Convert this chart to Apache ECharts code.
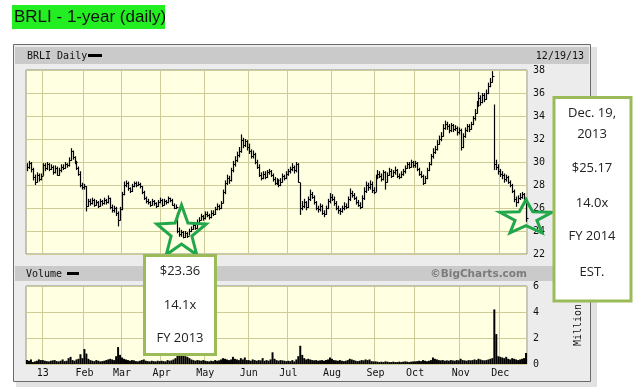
<!DOCTYPE html>
<html><head><meta charset="utf-8">
<script src="https://cdn.jsdelivr.net/npm/echarts@6/dist/echarts.min.js"></script>
<style>html,body{margin:0;padding:0;background:#fff}#c{width:642px;height:390px}</style>
</head><body><div id="c"></div>
<script>
// ---- calendar ----
const firstDay = '2012-12-19', lastDay = '2013-12-19';
const holidays = ['2012-12-25','2013-01-01','2013-01-21','2013-02-18','2013-03-29','2013-05-27','2013-07-04','2013-09-02','2013-11-28'];
const monthLabels = ['13','Feb','Mar','Apr','May','Jun','Jul','Aug','Sep','Oct','Nov','Dec'];
const priceTicks = {min:22, max:38, step:2};
const volTicks = {min:0, max:6, step:2};

// ---- daily close (USD) by month ----
const closeDec12 = [29.6,29.9,29.4,28.7,28.3,28.9,28.5,28.8];
const closeJan = [29.7,29.5,29.8,29.4,29.6,29.1,29.5,28.9,29.3,29.6,29.5,29.8,29.7,30.2,31.0,30.4,30.0,29.5,29.0,28.0,27.8];
const closeFeb = [27.9,26.2,26.6,26.4,26.7,26.3,26.5,26.2,26.6,26.4,26.7,26.5,26.9,26.1,25.8,26.0,25.6,25.0,25.9];
const closeMar = [27.2,28.0,28.2,27.7,27.5,27.9,28.2,28.0,28.1,27.9,27.4,26.9,26.6,26.5,26.3,26.6,26.4,26.2,26.5,26.7];
const closeApr = [26.3,26.6,26.5,26.9,26.7,26.3,26.0,26.1,24.0,23.7,23.9,23.5,23.8,23.6,24.0,24.2,24.5,24.3,24.8,25.0,25.3,25.1];
const closeMay = [25.5,25.4,25.2,25.6,25.5,25.9,26.2,26.0,26.4,27.4,28.2,28.6,28.4,29.3,29.8,30.2,30.6,31.0,31.9,31.5,31.8,31.3];
const closeJun = [31.0,30.5,30.7,30.0,29.6,28.9,28.6,29.0,28.7,29.1,29.2,28.9,28.5,28.2,28.4,28.0,28.3,28.8,28.6,29.0];
const closeJul = [29.2,29.4,29.6,29.3,29.8,28.3,26.0,26.2,26.5,26.1,26.8,27.2,27.0,26.5,26.0,25.9,26.2,25.6,25.5,26.0,26.6,27.0];
const closeAug = [26.8,26.4,26.0,25.8,25.7,26.0,26.2,26.1,26.8,27.3,27.1,26.9,26.5,26.3,26.1,26.9,27.5,28.0,27.8,28.1,27.6,27.4];
const closeSep = [28.7,29.0,28.8,28.5,29.1,28.3,28.9,29.2,28.8,29.1,29.3,28.8,28.7,29.0,29.2,29.5,29.8,29.6,30.0,29.7];
const closeOct = [29.9,29.4,29.0,28.8,28.2,28.6,29.3,29.8,30.5,30.9,31.1,31.6,32.0,32.3,33.0,33.3,33.1,32.8,33.2,32.9,33.0,32.6,32.8];
const closeNov = [31.3,32.3,32.8,33.1,32.9,33.3,33.8,34.3,35.0,35.6,35.2,35.8,35.5,36.0,36.6,37.0,37.5,29.8,29.6,29.2];
const closeDec = [29.0,28.9,28.5,28.7,28.3,28.0,27.5,26.8,26.5,26.9,27.0,27.2,26.9,25.17];

// ---- daily high ----
const highDec12 = [29.9,30.1,30.0,29.5,28.9,29.1,29.0,29.0];
const highJan = [29.9,29.9,30.0,29.9,29.8,29.7,29.7,29.6,29.5,29.8,29.8,30.0,29.9,30.4,31.2,31.0,30.5,30.1,29.6,29.2,28.2];
const highFeb = [28.1,27.9,26.8,26.8,26.9,26.8,26.7,26.6,26.8,26.7,26.9,26.8,27.1,26.9,26.3,26.2,26.1,25.7,26.1];
const highMar = [27.4,28.3,28.4,28.3,27.8,28.1,28.3,28.3,28.3,28.2,27.9,27.5,27.0,26.8,26.6,26.8,26.7,26.5,26.7,26.9];
const highApr = [26.8,26.8,26.7,27.0,26.9,26.8,26.4,26.3,25.6,24.3,24.1,24.0,24.0,23.9,24.2,24.4,24.7,24.6,25.0,25.2,25.5,25.4];
const highMay = [25.7,25.7,25.5,25.8,25.8,26.1,26.4,26.3,26.6,27.6,28.4,28.9,28.8,29.5,30.1,30.5,30.9,31.3,32.4,32.1,32.0,31.9];
const highJun = [31.6,31.1,31.0,30.8,30.2,29.8,29.1,29.2,29.2,29.3,29.4,29.3,29.0,28.7,28.6,28.5,28.6,29.0,28.9,29.2];
const highJul = [29.4,29.6,29.9,29.7,30.0,29.9,28.2,26.6,26.8,26.6,27.0,27.6,27.4,27.1,26.6,26.2,26.4,26.3,25.8,26.2,26.8,27.3];
const highAug = [27.2,27.0,26.6,26.2,26.0,26.2,26.5,26.4,27.0,27.7,27.5,27.3,27.0,26.7,26.5,27.1,27.8,28.3,28.2,28.4,28.3,27.8];
const highSep = [28.9,29.3,29.2,29.0,29.3,29.2,29.1,29.5,29.4,29.3,29.6,29.4,29.0,29.2,29.4,29.7,30.0,30.0,30.2,30.1];
const highOct = [30.1,30.0,29.5,29.2,28.9,28.8,29.5,30.0,30.7,31.2,31.4,31.9,32.3,32.6,33.3,33.6,33.5,33.3,33.4,33.3,33.2,33.1,33.0];
const highNov = [32.9,32.5,33.0,33.3,33.3,33.5,34.0,34.6,35.3,36.1,35.8,36.0,36.0,36.3,36.9,37.3,37.9,35.0,30.2,29.8];
const highDec = [29.4,29.2,29.0,28.9,28.8,28.4,28.1,27.6,27.0,27.1,27.3,27.4,27.3,26.9];

// ---- daily low ----
const lowDec12 = [29.2,29.4,29.1,28.4,28.0,28.2,28.3,28.4];
const lowJan = [28.8,29.2,29.3,29.2,29.3,28.9,29.0,28.8,28.8,29.1,29.3,29.4,29.5,29.6,30.1,30.2,29.8,29.3,28.8,27.8,27.6];
const lowFeb = [27.6,25.7,26.1,26.2,26.3,26.1,26.2,26.0,26.1,26.2,26.3,26.3,26.4,25.9,25.6,25.6,25.3,24.4,24.9];
const lowMar = [25.8,27.1,27.8,27.5,27.3,27.4,27.8,27.8,27.9,27.7,27.2,26.7,26.4,26.3,26.1,26.2,26.2,26.0,26.1,26.4];
const lowApr = [26.1,26.2,26.3,26.4,26.5,26.2,25.9,25.9,23.8,23.5,23.5,23.36,23.4,23.4,23.6,23.9,24.1,24.1,24.2,24.6,24.9,24.9];
const lowMay = [25.0,25.2,25.0,25.1,25.3,25.4,25.8,25.8,25.9,26.4,27.2,28.0,28.1,28.3,29.1,29.6,30.0,30.4,30.8,31.2,31.3,31.0];
const lowJun = [30.7,30.3,30.3,29.8,29.4,28.7,28.4,28.5,28.5,28.6,28.9,28.7,28.3,28.0,28.0,27.8,27.9,28.2,28.4,28.5];
const lowJul = [28.8,29.0,29.2,29.0,29.1,28.2,25.4,25.8,26.0,25.8,26.0,26.6,26.8,26.3,25.8,25.6,25.7,25.4,25.2,25.4,25.9,26.4];
const lowAug = [26.6,26.2,25.8,25.5,25.4,25.6,25.8,25.9,26.0,26.6,26.9,26.7,26.3,26.1,25.9,26.0,26.7,27.3,27.5,27.6,27.3,27.2];
const lowSep = [27.4,28.5,28.6,28.3,28.4,27.6,28.2,28.8,28.6,28.7,28.9,28.6,28.5,28.6,28.8,29.0,29.4,29.4,29.5,29.5];
const lowOct = [29.5,29.2,28.8,28.6,28.0,28.1,28.5,29.2,29.7,30.3,30.7,31.0,31.5,31.8,32.2,32.8,32.8,32.5,32.6,32.6,32.7,32.3,32.4];
const lowNov = [31.0,31.2,32.1,32.6,32.6,32.8,33.2,33.6,34.2,34.8,34.9,35.1,35.2,35.4,35.9,36.5,36.9,29.3,29.3,28.9];
const lowDec = [28.7,28.5,28.2,28.3,28.1,27.8,27.3,26.5,26.1,26.4,26.7,26.8,26.6,24.8];

// ---- daily volume (millions) ----
const volDec12 = [0.30,0.25,0.35,0.15,0.20,0.25,0.35,0.30];
const volJan = [0.30,0.25,0.22,0.20,0.25,0.28,0.30,0.22,0.20,0.25,0.35,0.22,0.25,0.45,0.55,0.30,0.25,0.35,0.40,0.75,0.45];
const volFeb = [1.15,0.80,0.40,0.30,0.25,0.22,0.30,0.25,0.20,0.22,0.25,0.30,0.35,0.40,0.35,0.30,0.60,1.30,0.70];
const volMar = [0.50,0.40,0.35,0.30,0.25,0.30,0.28,0.22,0.20,0.25,0.30,0.35,0.25,0.22,0.20,0.25,0.22,0.20,0.25,0.22];
const volApr = [0.25,0.22,0.20,0.30,0.25,0.28,0.35,0.45,0.90,0.75,0.70,0.65,0.60,0.55,0.45,0.35,0.30,0.25,0.30,0.28,0.25,0.30];
const volMay = [0.25,0.22,0.20,0.25,0.22,0.30,0.25,0.28,0.35,0.45,0.40,0.35,0.30,0.35,0.55,0.40,0.35,0.30,0.45,0.35,0.50,0.30];
const volJun = [0.30,0.25,0.35,0.30,0.25,0.30,0.28,0.45,0.25,0.30,0.25,0.35,0.90,0.40,0.30,0.25,0.30,0.28,0.25,0.22];
const volJul = [0.25,0.22,0.30,0.20,0.35,0.60,1.40,0.70,0.45,0.35,0.40,0.35,0.30,0.28,0.30,0.25,0.28,0.30,0.25,0.30,0.35,0.50];
const volAug = [0.40,0.30,0.28,0.25,0.30,0.25,0.22,0.25,0.30,0.40,0.35,0.30,0.25,0.22,0.25,0.30,0.28,0.35,0.30,0.35,0.22,0.20];
const volSep = [0.20,0.18,0.15,0.18,0.15,0.20,0.18,0.15,0.15,0.18,0.15,0.15,0.18,0.15,0.18,0.20,0.18,0.15,0.18,0.20];
const volOct = [0.20,0.22,0.25,0.22,0.30,0.25,0.22,0.25,0.30,0.50,0.40,0.35,0.30,0.28,0.30,0.25,0.28,0.25,0.30,0.28,0.25,0.30,0.28];
const volNov = [0.40,0.30,0.28,0.25,0.30,0.28,0.30,0.35,0.30,0.40,0.35,0.30,0.28,0.30,0.35,0.40,0.45,4.20,2.30,0.60];
const volDec = [0.55,0.50,0.45,0.55,0.40,0.35,0.45,0.40,0.35,0.30,0.35,0.40,0.45,0.85];

const close = [].concat(closeDec12,closeJan,closeFeb,closeMar,closeApr,closeMay,closeJun,closeJul,closeAug,closeSep,closeOct,closeNov,closeDec);
const high = [].concat(highDec12,highJan,highFeb,highMar,highApr,highMay,highJun,highJul,highAug,highSep,highOct,highNov,highDec);
const low = [].concat(lowDec12,lowJan,lowFeb,lowMar,lowApr,lowMay,lowJun,lowJul,lowAug,lowSep,lowOct,lowNov,lowDec);
const volume = [].concat(volDec12,volJan,volFeb,volMar,volApr,volMay,volJun,volJul,volAug,volSep,volOct,volNov,volDec);

function tradingDays(){
  const out=[]; let t=Date.parse(firstDay+'T00:00:00Z'); const end=Date.parse(lastDay+'T00:00:00Z');
  while(t<=end){ const d=new Date(t); const wd=d.getUTCDay(); const s=d.toISOString().slice(0,10);
    if(wd!==0&&wd!==6&&holidays.indexOf(s)<0) out.push(s); t+=86400000; }
  return out;
}
const dates = tradingDays();
const isMonthStart = i => i>0 && dates[i].slice(5,7)!==dates[i-1].slice(5,7);

const MONO = '"DejaVu Sans Mono", monospace';
const BOXFONT = '"Open Sans", sans-serif';
const gridCol = '#CFCB98';
const plotBg = '#FFFFE1';

function star(cx,cy,rx,ry,inner){
  const pts=[];
  for(let k=0;k<10;k++){ const a=-Math.PI/2+k*Math.PI/5; const r=(k%2===0)?1:inner;
    pts.push([cx+rx*r*Math.cos(a), cy+ry*r*Math.sin(a)]); }
  return pts;
}

const chart = echarts.init(document.getElementById('c'), null, {renderer:'canvas'});
const xCommon = {type:'category', data:dates, boundaryGap:true,
  axisLine:{show:false}, axisTick:{show:false},
  splitLine:{show:true, interval:(i)=>isMonthStart(i), lineStyle:{color:gridCol, width:1}}};

chart.setOption({
  animation:false,
  backgroundColor:'#ffffff',
  grid:[
    {left:26, top:70, width:501, height:184, show:true, backgroundColor:plotBg, borderColor:'#8f8f86', borderWidth:1},
    {left:26, top:286, width:501, height:78, show:true, backgroundColor:plotBg, borderColor:'#8f8f86', borderWidth:1}
  ],
  xAxis:[
    Object.assign({gridIndex:0, axisLabel:{show:false}}, xCommon),
    Object.assign({gridIndex:1, axisLabel:{show:true, interval:(i)=>isMonthStart(i),
      formatter:(v)=>monthLabels[parseInt(v.slice(5,7),10)-1], fontFamily:MONO, fontSize:10, color:'#111', margin:4}}, xCommon)
  ],
  yAxis:[
    {gridIndex:0, type:'value', position:'right', min:priceTicks.min, max:priceTicks.max, interval:priceTicks.step,
      axisLine:{show:false}, axisTick:{show:false},
      axisLabel:{fontFamily:MONO, fontSize:10, color:'#111', margin:6},
      splitLine:{show:true, lineStyle:{color:gridCol}}},
    {gridIndex:1, type:'value', position:'right', min:volTicks.min, max:volTicks.max, interval:volTicks.step,
      axisLine:{show:false}, axisTick:{show:false},
      axisLabel:{fontFamily:MONO, fontSize:10, color:'#111', margin:6},
      splitLine:{show:true, lineStyle:{color:gridCol}}}
  ],
  series:[
    {type:'custom', xAxisIndex:0, yAxisIndex:0, silent:true, z:5,
      data: close.map((c,i)=>[i,c,high[i],low[i]]),
      encode:{x:0, y:[1,2,3]},
      renderItem:(params, api)=>{
        const i=api.value(0);
        const h=api.coord([i,api.value(2)]), l=api.coord([i,api.value(3)]), c=api.coord([i,api.value(1)]);
        const px=Math.round(h[0])+0.5, cy=Math.round(c[1])+0.5;
        return {type:'group', children:[
          {type:'line', shape:{x1:px,y1:h[1],x2:px,y2:l[1]}, style:{stroke:'#000',lineWidth:1.2}},
          {type:'line', shape:{x1:px,y1:cy,x2:px+2,y2:cy}, style:{stroke:'#000',lineWidth:1}}
        ]};
      }},
    {type:'bar', xAxisIndex:1, yAxisIndex:1, silent:true, data:volume, barCategoryGap:'0%', barGap:'0%',
      itemStyle:{color:'#000'}, z:5}
  ],
  graphic:[
    // frame and header bars
    {type:'rect', z:-20, shape:{x:16,y:47,width:581,height:340}, style:{fill:'#E2E2E2'}},
    {type:'rect', z:-19, shape:{x:13.5,y:44.5,width:577,height:337}, style:{fill:'#ECECEC', stroke:'#6b6b6b', lineWidth:1}},
    {type:'rect', z:-18, shape:{x:15,y:47,width:574,height:17}, style:{fill:'#CACACA'}},
    {type:'rect', z:-18, shape:{x:15,y:266,width:574,height:15}, style:{fill:'#CACACA'}},
    {type:'text', z:10, x:27, y:56, style:{text:'BRLI Daily', font:'10px '+MONO, fill:'#111', verticalAlign:'middle'}},
    {type:'rect', z:10, shape:{x:88,y:54,width:14,height:3}, style:{fill:'#000'}},
    {type:'text', z:10, x:584, y:56, style:{text:'12/19/13', font:'10px '+MONO, fill:'#111', align:'right', verticalAlign:'middle'}},
    {type:'text', z:10, x:26, y:274, style:{text:'Volume', font:'10px '+MONO, fill:'#111', verticalAlign:'middle'}},
    {type:'rect', z:10, shape:{x:67,y:272,width:12,height:3}, style:{fill:'#000'}},
    {type:'text', z:10, x:527, y:274, style:{text:'©BigCharts.com', font:'bold 10.5px "DejaVu Sans", sans-serif', fill:'#7b7b7b', align:'right', verticalAlign:'middle'}},
    {type:'text', z:10, x:578, y:325, rotation:Math.PI/2, style:{text:'Million', font:'10px '+MONO, fill:'#111', align:'center', verticalAlign:'middle'}},
    // title
    {type:'rect', z:10, shape:{x:12,y:5,width:153,height:24}, style:{fill:'#22EE22'}},
    {type:'text', z:11, x:14, y:17, style:{text:'BRLI - 1-year (daily)', font:'17px "Liberation Sans", sans-serif', fill:'#111', verticalAlign:'middle'}},
    // stars
    {type:'polygon', z:50, shape:{points:star(181.5,232.5,26,27.6,0.42)}, style:{fill:'none', stroke:'#22A64A', lineWidth:3, lineJoin:'miter'}},
    {type:'polygon', z:50, shape:{points:star(526,218,27.3,18.3,0.42)}, style:{fill:'none', stroke:'#22A64A', lineWidth:3, lineJoin:'miter'}},
    // annotation boxes
    {type:'rect', z:60, shape:{x:144.5,y:255.5,width:71,height:99}, style:{fill:'#fff', stroke:'#9BBB59', lineWidth:3}},
    {type:'text', z:61, x:180, y:271, style:{text:'$23.36', font:'13px '+BOXFONT, fill:'#222', align:'center', verticalAlign:'middle'}},
    {type:'text', z:61, x:180, y:305, style:{text:'14.1x', font:'13px '+BOXFONT, fill:'#222', align:'center', verticalAlign:'middle'}},
    {type:'text', z:61, x:180, y:338, style:{text:'FY 2013', font:'13px '+BOXFONT, fill:'#222', align:'center', verticalAlign:'middle'}},
    {type:'rect', z:60, shape:{x:554,y:97.5,width:77,height:203.5}, style:{fill:'#fff', stroke:'#9BBB59', lineWidth:3}},
    {type:'text', z:61, x:592, y:113, style:{text:'Dec. 19,', font:'13px '+BOXFONT, fill:'#222', align:'center', verticalAlign:'middle'}},
    {type:'text', z:61, x:592, y:134, style:{text:'2013', font:'13px '+BOXFONT, fill:'#222', align:'center', verticalAlign:'middle'}},
    {type:'text', z:61, x:592, y:168, style:{text:'$25.17', font:'13px '+BOXFONT, fill:'#222', align:'center', verticalAlign:'middle'}},
    {type:'text', z:61, x:592, y:203, style:{text:'14.0x', font:'13px '+BOXFONT, fill:'#222', align:'center', verticalAlign:'middle'}},
    {type:'text', z:61, x:592, y:236, style:{text:'FY 2014', font:'13px '+BOXFONT, fill:'#222', align:'center', verticalAlign:'middle'}},
    {type:'text', z:61, x:592, y:272, style:{text:'EST.', font:'13px '+BOXFONT, fill:'#222', align:'center', verticalAlign:'middle'}}
  ]
});
</script></body></html>
